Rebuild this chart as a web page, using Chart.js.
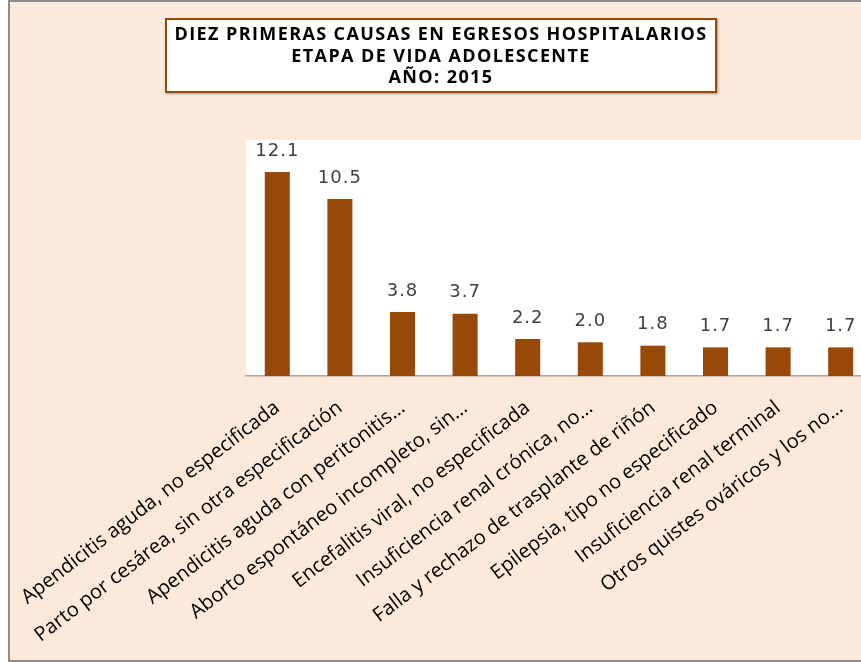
<!DOCTYPE html>
<html>
<head>
<meta charset="utf-8">
<script src="https://cdn.jsdelivr.net/npm/chart.js@4/dist/chart.umd.min.js"></script>
<style>
  body { margin: 0; width: 861px; height: 662px; overflow: hidden; background: #fff; position: relative; }
  #frame { position: absolute; left: 8px; top: 0; width: 880px; height: 658px; border: 2px solid #8c8c8c; background: #fde9d9; }
  #wrap { position: absolute; left: 0; top: 0; width: 880px; height: 662px; }
  #title { position: absolute; left: 165px; top: 18px; width: 548px; height: 68px; background: #fff;
           border: 2px solid #984807; box-shadow: 1px 1px 2px rgba(0,0,0,0.35);
           font: bold 18px "Open Sans", sans-serif; letter-spacing: 1.4px; color: #000; text-align: center; line-height: 21.5px;
           padding-top: 3px; box-sizing: content-box; white-space: nowrap; }
</style>
</head>
<body>
<div id="frame"></div>
<div id="wrap"><canvas id="barChart" width="880" height="662"></canvas></div>
<div id="title">DIEZ PRIMERAS CAUSAS EN EGRESOS HOSPITALARIOS<br>ETAPA DE VIDA ADOLESCENTE<br>AÑO: 2015</div>
<script>
// categories (as truncated in the original chart)
var causas = [
    "Apendicitis aguda, no especificada",
    "Parto por cesárea, sin otra especificación",
    "Apendicitis aguda con peritonitis…",
    "Aborto espontáneo incompleto, sin…",
    "Encefalitis viral, no especificada",
    "Insuficiencia renal crónica, no…",
    "Falla y rechazo de trasplante de riñón",
    "Epilepsia, tipo no especificado",
    "Insuficiencia renal terminal",
    "Otros quistes ováricos y los no…"
];
var porcentajes = [12.1, 10.5, 3.8, 3.7, 2.2, 2.0, 1.8, 1.7, 1.7, 1.7];

var ctx = document.getElementById("barChart").getContext('2d');

// white plot area
var plotBackground = {
    id: 'plotBackground',
    beforeDraw: function(chart) {
        var a = chart.chartArea;
        chart.ctx.save();
        chart.ctx.fillStyle = '#ffffff';
        chart.ctx.fillRect(a.left, a.top, a.right - a.left, a.bottom - a.top);
        chart.ctx.restore();
    }
};

// value labels above bars
var valueLabels = {
    id: 'valueLabels',
    afterDatasetsDraw: function(chart) {
        var c = chart.ctx;
        var meta = chart.getDatasetMeta(0);
        c.save();
        c.font = '18px "DejaVu Sans"';
        c.letterSpacing = '1px';
        c.fillStyle = '#404040';
        c.textAlign = 'center';
        c.textBaseline = 'bottom';
        meta.data.forEach(function(bar, i) {
            c.fillText(porcentajes[i].toFixed(1), bar.x, bar.y - 12);
        });
        c.restore();
    }
};

var chart = new Chart(ctx, {
    type: 'bar',
    data: {
        labels: causas,
        datasets: [{
            data: porcentajes,
            backgroundColor: '#984807',
            categoryPercentage: 1.0,
            barPercentage: 0.4
        }]
    },
    options: {
        responsive: false,
        animation: false,
        layout: { padding: { left: 246, top: 140, right: 8, bottom: 0 } },
        plugins: {
            legend: { display: false },
            tooltip: { enabled: false }
        },
        scales: {
            y: { display: false, min: 0, max: 14 },
            x: {
                grid: { display: false, drawTicks: false },
                border: { color: '#a6a6a6', width: 1.5 },
                ticks: {
                    color: '#000',
                    font: { family: 'Open Sans', size: 20 },
                    minRotation: 37.5,
                    maxRotation: 37.5,
                    padding: 20,
                    autoSkip: false
                },
                afterFit: function(scale) {
                    scale.height = 286;
                    scale.paddingLeft = 0;
                    scale.paddingRight = 0;
                }
            }
        }
    },
    plugins: [plotBackground, valueLabels]
});
</script>
</body>
</html>
